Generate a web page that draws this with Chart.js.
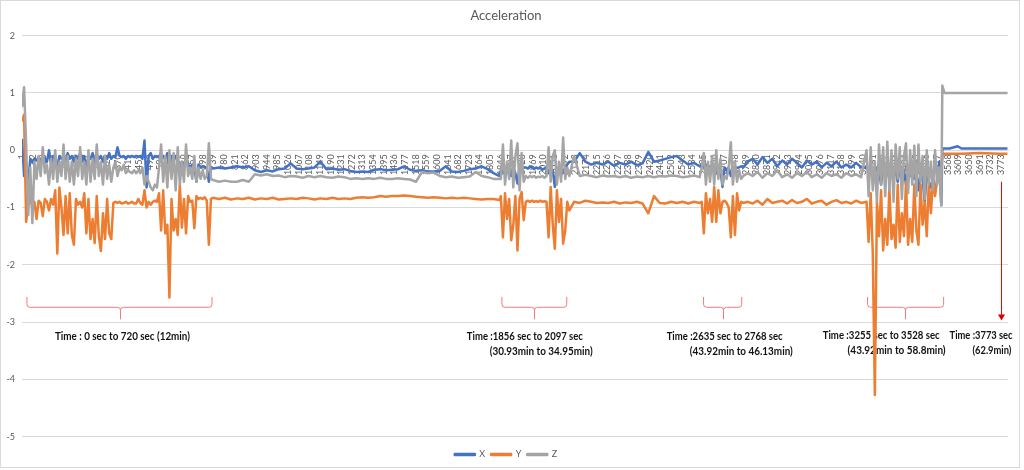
<!DOCTYPE html>
<html><head><meta charset="utf-8">
<script src="https://cdn.jsdelivr.net/npm/chart.js@4.4.0/dist/chart.umd.min.js"></script>
<style>html,body{margin:0;padding:0;background:#fff;} #wrap{width:1024px;height:470px;}</style>
</head><body><div id="wrap"><canvas id="c" width="1024" height="470"></canvas></div>
<script>
const seriesNames = ['X', 'Y', 'Z'];

// sample time (category index, ~seconds)
const time = [
1,9,17,25,33,41,49,57,65,73,81,89,97,105,113,121,129,137,145,153,161,169,177,185,193,201,209,217,225,233,241,249,257,265,273,281,289,297,305,313,321,329,337,345,353,361,369,377,385,393,401,409,417,425,433,441,449,457,465,473,481,489,497,505,513,521,529,537,545,553,561,569,577,585,593,601,609,617,625,633,641,649,657,665,673,681,689,697,705,713,721,729,737,
760,783,806,829,852,875,898,921,944,967,990,1013,1036,1059,1082,1105,1128,1151,1174,1197,1220,1243,1266,1289,1312,1335,1358,1381,1404,1427,1450,1473,1496,1519,1542,1565,1588,1611,1634,1657,1680,1703,1726,1749,1772,1795,1818,1841,
1846,1854,1862,1870,1878,1886,1894,1902,1910,1918,1926,1934,1942,1950,1958,1966,1974,1982,1990,1998,2006,2014,2022,2030,2038,2046,2054,2062,2070,2078,2086,2094,2102,2110,
2128,2150,2172,2194,2216,2238,2260,2282,2304,2326,2348,2370,2392,2414,2436,2458,2480,2502,2524,2546,2568,2590,2612,
2620,2628,2636,2644,2652,2660,2668,2676,2684,2692,2700,2708,2716,2724,2732,2740,2748,2756,2764,2772,2780,
2797,2816,2835,2854,2873,2892,2911,2930,2949,2968,2987,3006,3025,3044,3063,3082,3101,3120,3139,3158,3177,3196,3215,3234,
3255,3263,3271,3279,3287,3295,3303,3311,3319,3327,3335,3343,3351,3359,3367,3375,3383,3391,3399,3407,3415,3423,3431,3439,3447,3455,3463,3471,3479,3487,3495,3503,3511,3519,3527,3535,3543,3547,3555,
3575,3606,3621,3690,3767,3798
];

const accX = [
0.2,-0.45,-0.3,-0.55,-0.15,-0.2,-0.15,-0.18,-0.12,-0.2,
-0.1,-0.15,-0.2,0.0,-0.25,-0.1,-0.15,-0.3,-0.1,-0.15,
-0.1,-0.2,-0.05,-0.15,-0.1,-0.2,-0.1,-0.15,-0.05,-0.2,
-0.1,-0.35,-0.1,-0.15,-0.05,-0.2,-0.1,-0.15,-0.1,-0.2,
-0.1,-0.15,-0.05,-0.15,-0.1,-0.12,0.05,-0.1,-0.12,-0.1,
-0.15,-0.1,-0.12,-0.1,-0.12,-0.1,-0.12,-0.1,-0.15,0.17,
-0.65,-0.1,-0.05,-0.15,-0.1,-0.12,-0.1,-0.2,-0.1,-0.15,
-0.05,-0.3,-0.1,-0.2,-0.1,-0.15,-0.45,-0.2,-0.25,-0.2,
-0.25,-0.3,-0.25,-0.3,-0.55,-0.25,-0.3,-0.28,-0.3,-0.3,
-0.55,-0.3,-0.32,
-0.3,-0.32,-0.3,-0.28,-0.3,-0.28,-0.35,-0.38,-0.35,-0.37,
-0.33,-0.32,-0.23,-0.32,-0.33,-0.32,-0.3,-0.2,-0.33,-0.32,
-0.34,-0.33,-0.36,-0.38,-0.37,-0.38,-0.34,-0.33,-0.35,-0.34,
-0.33,-0.28,-0.34,-0.36,-0.35,-0.37,-0.37,-0.36,-0.28,-0.37,
-0.38,-0.36,-0.33,-0.32,-0.28,-0.33,-0.4,-0.45,
-0.35,-0.4,-0.3,-0.35,-0.3,-0.45,-0.3,-0.4,-0.58,-0.3,
-0.35,-0.3,-0.3,-0.32,-0.28,-0.3,-0.33,-0.3,-0.32,-0.3,
-0.34,-0.32,-0.3,-0.4,-0.3,-0.35,-0.64,-0.3,-0.35,-0.3,
-0.4,-0.3,-0.25,-0.2,
-0.2,-0.05,-0.2,-0.25,-0.22,-0.25,-0.2,-0.27,-0.22,-0.25,-0.2,-0.26,-0.23,-0.03,-0.2,-0.18,-0.15,-0.12,-0.1,-0.18,-0.25,-0.22,-0.28,
-0.25,-0.3,-0.25,-0.3,-0.28,-0.35,-0.3,-0.4,-0.3,-0.35,-0.64,-0.3,-0.35,-0.3,-0.45,-0.3,-0.35,-0.3,-0.3,-0.28,-0.3,
-0.2,-0.15,-0.25,-0.12,-0.22,-0.15,-0.28,-0.18,-0.25,-0.15,-0.22,-0.3,-0.18,-0.25,-0.2,-0.3,-0.22,-0.28,-0.2,-0.3,-0.25,-0.3,-0.22,-0.3,
-0.3,-0.35,-0.3,-0.5,-0.4,-0.3,-0.35,-0.6,-0.3,-0.4,
-0.35,-0.5,-0.3,-0.45,-0.35,-0.55,-0.3,-0.4,-0.35,-0.6,
-0.3,-0.45,-0.35,-0.5,-0.4,-0.7,-0.4,-0.5,-0.9,-0.4,
-0.55,-0.65,-0.5,-0.7,-0.55,-0.2,-0.96,0.03,0.03,
0.03,0.07,0.03,0.03,0.03,0.03
];

const accY = [
0.5,0.62,-1.25,-0.9,-0.85,-1.0,-0.9,-1.2,-0.88,-0.92,
-1.15,-0.85,-0.9,-1.05,-0.85,-0.95,-0.7,-1.8,-0.65,-1.0,
-1.48,-0.8,-1.45,-0.75,-1.48,-1.65,-0.85,-0.95,-0.9,-1.0,
-0.75,-1.45,-0.85,-1.55,-1.2,-1.62,-0.8,-1.5,-1.76,-1.1,
-1.55,-0.85,-1.45,-1.55,-0.92,-0.9,-0.92,-0.9,-0.93,-0.92,
-0.9,-0.93,-0.92,-0.9,-0.93,-0.93,-0.85,-0.92,-0.95,-0.7,
-1.0,-0.9,-0.95,-0.9,-0.88,-0.9,-0.75,-1.4,-0.7,-1.45,
-1.3,-2.57,-0.85,-1.4,-1.2,-1.48,-0.6,-1.35,-0.85,-1.45,
-0.8,-0.9,-0.88,-1.36,-0.8,-0.85,-0.83,-0.85,-0.82,-0.88,
-1.65,-0.85,-0.83,
-0.85,-0.83,-0.86,-0.84,-0.85,-0.83,-0.86,-0.84,-0.85,-0.83,
-0.86,-0.85,-0.84,-0.85,-0.83,-0.84,-0.86,-0.84,-0.85,-0.83,
-0.85,-0.84,-0.85,-0.83,-0.82,-0.83,-0.82,-0.8,-0.81,-0.8,
-0.8,-0.79,-0.8,-0.81,-0.82,-0.83,-0.82,-0.83,-0.84,-0.83,
-0.84,-0.83,-0.84,-0.85,-0.86,-0.85,-0.85,-0.87,
-0.8,-1.52,-0.75,-1.2,-0.85,-1.57,-1.3,-0.8,-1.75,-0.85,
-0.73,-1.22,-0.9,-0.88,-0.9,-0.88,-0.9,-0.89,-0.9,-0.88,
-0.9,-0.89,-0.9,-1.52,-0.64,-1.3,-1.72,-0.7,-1.25,-0.85,
-1.63,-1.4,-0.9,-1.05,
-0.9,-0.92,-0.88,-0.9,-0.92,-0.91,-0.92,-0.9,-0.93,-0.91,-0.92,-0.9,-0.93,-1.1,-0.8,-0.92,-0.93,-0.9,-0.92,-0.9,-0.93,-0.9,-0.92,
-0.9,-1.45,-0.75,-1.1,-0.85,-1.25,-0.64,-1.25,-0.7,-1.1,-0.9,-0.88,-0.92,-1.0,-1.52,-0.8,-1.48,-0.75,-1.05,-0.9,-0.92,
-0.9,-0.93,-0.88,-0.95,-0.85,-0.92,-0.9,-0.88,-0.93,-0.87,-0.92,-0.9,-0.85,-0.93,-0.9,-0.88,-0.95,-0.9,-0.87,-0.92,-0.9,-0.93,-0.88,-0.92,
-0.9,-1.6,-0.75,-1.8,-4.27,-0.9,-1.5,-0.7,-1.75,-1.2,
-1.65,-0.65,-1.55,-1.3,-1.7,-0.6,-1.6,-1.1,-1.5,-0.55,
-1.65,-1.2,-1.6,-0.6,-1.4,-1.65,-0.6,-1.3,-0.9,-1.5,
-0.55,-1.1,-0.5,-0.8,-0.5,-0.35,-0.35,-0.06,-0.06,
-0.06,-0.06,-0.06,-0.05,-0.06,-0.06
];

const accZ = [
0.75,1.1,0.1,-1.13,-0.3,-1.27,-0.2,-0.5,-0.1,-0.45,
0.05,-0.4,-0.25,-0.6,-0.15,-0.5,0.0,-0.55,-0.2,-0.45,
0.1,-0.5,-0.1,-0.55,-0.2,-0.6,-0.15,-0.45,0.05,-0.5,
-0.2,-0.6,0.0,-0.55,-0.15,-0.5,0.1,-0.45,-0.2,-0.6,
-0.1,-0.5,-0.25,-0.55,-0.3,-0.2,-0.45,-0.3,-0.35,-0.25,
-0.4,-0.35,-0.38,-0.4,-0.35,-0.4,-0.35,-0.4,-0.3,-0.6,
-0.45,-0.55,-0.65,-0.7,-0.6,-0.65,-0.3,0.1,-0.55,-0.1,
-0.65,0.0,-0.5,-0.05,-0.7,0.05,-0.6,-0.2,-0.55,0.1,
-0.45,-0.3,-0.5,-0.1,-0.55,-0.3,-0.5,-0.35,-0.5,-0.45,
0.12,-0.5,-0.52,
-0.55,-0.53,-0.55,-0.55,-0.52,-0.55,-0.42,-0.44,-0.42,-0.45,
-0.44,-0.47,-0.45,-0.46,-0.48,-0.45,-0.47,-0.45,-0.47,-0.48,
-0.46,-0.47,-0.5,-0.49,-0.5,-0.49,-0.5,-0.48,-0.5,-0.5,
-0.49,-0.5,-0.51,-0.55,-0.38,-0.4,-0.39,-0.45,-0.47,-0.46,
-0.48,-0.47,-0.46,-0.38,-0.45,-0.47,-0.5,-0.5,
-0.5,0.1,-0.6,-0.2,-0.5,0.17,-0.65,-0.1,0.12,-0.7,
-0.05,-0.55,-0.45,-0.48,-0.45,-0.47,-0.45,-0.48,-0.46,-0.47,
-0.45,-0.48,-0.45,0.05,-0.55,-0.1,0.0,-0.6,-0.2,-0.55,
0.22,-0.5,-0.3,-0.45,
-0.1,-0.45,-0.43,-0.45,-0.47,-0.44,-0.46,-0.45,-0.47,-0.45,-0.48,-0.46,-0.47,-0.45,-0.47,-0.45,-0.46,-0.44,-0.45,-0.47,-0.46,-0.44,-0.47,
-0.3,-0.05,-0.6,-0.2,-0.55,-0.1,-0.6,0.0,-0.5,-0.15,-0.6,-0.45,-0.5,-0.3,0.14,-0.6,-0.2,-0.55,-0.35,-0.5,-0.45,
-0.4,-0.45,-0.38,-0.48,-0.4,-0.45,-0.35,-0.47,-0.42,-0.48,-0.4,-0.45,-0.38,-0.47,-0.42,-0.48,-0.4,-0.45,-0.42,-0.48,-0.4,-0.45,-0.42,-0.47,
0.0,-0.8,0.05,-0.7,-0.2,-0.9,0.1,-0.6,0.05,-0.8,
0.15,-0.7,0.0,-0.9,0.1,-0.5,0.05,-0.85,-0.1,0.12,
-0.75,0.0,-0.6,0.08,-0.8,0.1,-0.55,-0.1,-0.85,0.0,
-0.6,-0.2,-0.7,0.0,-0.6,-0.3,-0.96,1.13,1.0,
1.0,1.0,1.0,1.0,1.0,1.0
];

const tickLabels = [1,42,83,124,165,206,247,288,329,370,411,452,493,534,575,616,657,698,739,780,821,862,903,944,985,1026,1067,1108,1149,1190,1231,1272,1313,1354,1395,1436,1477,1518,1559,1600,1641,1682,1723,1764,1805,1846,1887,1928,1969,2010,2051,2092,2133,2174,2215,2256,2297,2338,2379,2420,2461,2502,2543,2584,2625,2666,2707,2748,2789,2830,2871,2912,2953,2994,3035,3076,3117,3158,3199,3240,3281,3322,3363,3404,3445,3486,3527,3568,3609,3650,3691,3732,3773];

// annotation config (data units)
const braces = [
  {from: 20, to: 733, mid: 378},
  {from: 1850, to: 2100, mid: 1973},
  {from: 2627, to: 2774, mid: 2700},
  {from: 3259, to: 3552, mid: 3405}
];
const braceLevels = {top: -2.56, line: -2.74, tip: -2.95};
const arrowAnn = {x: 3773, from: -0.55, to: -2.97};
const notes = [
  {text: 'Time : 0 sec to 720 sec (12min)', x: 128, y: -3.26, w: 135},
  {text: 'Time :1856 sec to 2097 sec', x: 1715, y: -3.26, w: 116},
  {text: '(30.93min to 34.95min)', x: 1803, y: -3.51, w: 103},
  {text: 'Time :2635 sec to 2768 sec', x: 2485, y: -3.26, w: 116},
  {text: '(43.92min to 46.13min)', x: 2574, y: -3.51, w: 103},
  {text: 'Time :3255 sec to 3528 sec', x: 3086, y: -3.23, w: 117},
  {text: '(43.92min to 58.8min)', x: 3182, y: -3.49, w: 98},
  {text: 'Time :3773 sec', x: 3575, y: -3.23, w: 63},
  {text: '(62.9min)', x: 3663, y: -3.49, w: 39}
];

const colors = ['#4472C4', '#ED7D31', '#A5A5A5'];
const seriesVals = [accX, accY, accZ];

const annotPlugin = {
  id: 'annot',
  beforeDraw(chart) {
    const {ctx, width, height} = chart;
    ctx.save();
    ctx.fillStyle = '#fff';
    ctx.fillRect(0, 0, width, height);
    ctx.strokeStyle = '#d9d9d9';
    ctx.lineWidth = 1;
    ctx.strokeRect(0.5, 0.5, 1019, 467);
    ctx.restore();
  },
  beforeDatasetsDraw(chart) {
    const {ctx} = chart;
    const xs = chart.scales.x, ys = chart.scales.y;
    ctx.save();
    ctx.strokeStyle = '#f47a7c';
    ctx.lineWidth = 1;
    const yt = ys.getPixelForValue(braceLevels.top);
    const yl = ys.getPixelForValue(braceLevels.line);
    const yp = ys.getPixelForValue(braceLevels.tip);
    const r = 3;
    braces.forEach(b => {
      const x1 = xs.getPixelForValue(b.from), x2 = xs.getPixelForValue(b.to), xm = Math.round(xs.getPixelForValue(b.mid)) + 0.5;
      ctx.beginPath();
      ctx.moveTo(x1, yt); ctx.lineTo(x1, yl - r); ctx.quadraticCurveTo(x1, yl, x1 + r, yl);
      ctx.lineTo(xm - r, yl); ctx.quadraticCurveTo(xm, yl, xm, yl + r); ctx.lineTo(xm, yp);
      ctx.moveTo(x2, yt); ctx.lineTo(x2, yl - r); ctx.quadraticCurveTo(x2, yl, x2 - r, yl);
      ctx.lineTo(xm + r, yl); ctx.quadraticCurveTo(xm, yl, xm, yl + r);
      ctx.stroke();
    });
    // arrow
    const ax = Math.round(xs.getPixelForValue(arrowAnn.x)) + 0.5;
    const ay1 = ys.getPixelForValue(arrowAnn.from), ay2 = ys.getPixelForValue(arrowAnn.to);
    ctx.strokeStyle = '#ff0000';
    ctx.beginPath(); ctx.moveTo(ax, ay1); ctx.lineTo(ax, ay2 - 4); ctx.stroke();
    ctx.fillStyle = '#e00000';
    ctx.beginPath(); ctx.moveTo(ax - 3.5, ay2 - 6); ctx.lineTo(ax + 3.5, ay2 - 6); ctx.lineTo(ax, ay2); ctx.closePath(); ctx.fill();
    // notes
    ctx.font = 'bold 10.5px Lato';
    ctx.fillStyle = '#111';
    ctx.textBaseline = 'middle';
    ctx.textAlign = 'left';
    notes.forEach(n => ctx.fillText(n.text, xs.getPixelForValue(n.x), ys.getPixelForValue(n.y), n.w));
    ctx.restore();
  }
};

const datasets = seriesNames.map((name, s) => ({
  label: name,
  data: time.map((t, i) => ({x: t, y: seriesVals[s][i]})),
  borderColor: colors[s],
  backgroundColor: colors[s],
  borderWidth: 2.5,
  pointRadius: 0,
  pointHoverRadius: 0,
  tension: 0,
  borderJoinStyle: 'round',
  order: 3 - s
}));

new Chart(document.getElementById('c'), {
  type: 'line',
  data: {datasets},
  plugins: [annotPlugin],
  options: {
    responsive: false,
    animation: false,
    devicePixelRatio: 1,
    layout: {padding: {left: 4, right: 16, top: 0, bottom: 1}},
    plugins: {
      tooltip: {enabled: false},
      title: {
        display: true, text: 'Acceleration', color: '#595959',
        font: {family: 'Lato', size: 13, weight: 'normal'},
        padding: {top: 8, bottom: 12}
      },
      legend: {
        position: 'bottom', reverse: true,
        title: {display: true, text: ' ', font: {size: 1}, padding: {top: 6, bottom: 0}},
        labels: {boxWidth: 20, boxHeight: 1, padding: 6, color: '#595959', font: {family: 'Lato', size: 9}}
      }
    },
    scales: {
      x: {
        type: 'linear',
        position: {y: 0},
        min: 1, max: 3800,
        afterBuildTicks: (scale) => { scale.ticks = tickLabels.map(v => ({value: v})); },
        grid: {display: false, drawTicks: false},
        border: {display: true, color: '#d9d9d9', width: 1},
        ticks: {
          autoSkip: false, maxRotation: 90, minRotation: 90, padding: 4,
          color: '#595959', font: {family: 'Lato', size: 9},
          callback: (v) => String(v)
        }
      },
      y: {
        min: -5, max: 2,
        afterFit: (scale) => { scale.width = 18; },
        grid: {color: '#d9d9d9', drawTicks: false},
        border: {display: false},
        ticks: {stepSize: 1, padding: 7, color: '#595959', font: {family: 'Lato', size: 9}}
      }
    }
  }
});
</script>
</body></html>
